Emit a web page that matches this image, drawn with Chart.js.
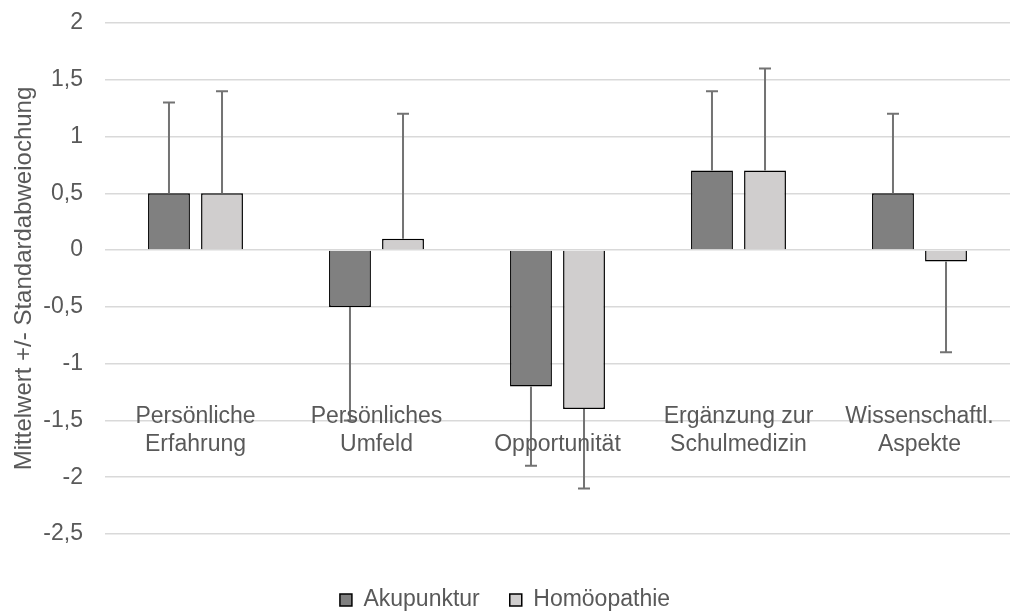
<!DOCTYPE html>
<html>
<head>
<meta charset="utf-8">
<script src="https://cdn.jsdelivr.net/npm/chart.js@4"></script>
<style>
  html, body { margin: 0; padding: 0; background: #fff; }
</style>
</head>
<body>
<canvas id="chart" width="1029" height="612"></canvas>
<script>
const categories = [
  ["Persönliche", "Erfahrung"],
  ["Persönliches", "Umfeld"],
  ["Opportunität"],
  ["Ergänzung zur", "Schulmedizin"],
  ["Wissenschaftl.", "Aspekte"],
];
const akupunktur = [0.5, -0.5, -1.2, 0.7, 0.5];
const akupunkturSd = [0.8, 1.0, 0.7, 0.7, 0.7];
const homoeopathie = [0.5, 0.1, -1.4, 0.7, -0.1];
const homoeopathieSd = [0.9, 1.1, 0.7, 0.9, 0.8];
const yTicks = [2, 1.5, 1, 0.5, 0, -0.5, -1, -1.5, -2, -2.5];

const textColor = "#595959";
const font = "'Liberation Sans', Arial, sans-serif";
const fontSize = 23;

// error bars away from zero, cap only on the far end
const errorBars = {
  id: "errorBars",
  afterDatasetsDraw(chart) {
    const ctx = chart.ctx;
    const y = chart.scales.y;
    const sds = [akupunkturSd, homoeopathieSd];
    ctx.save();
    ctx.strokeStyle = "#737373";
    ctx.lineWidth = 2;
    chart.data.datasets.forEach((ds, i) => {
      const meta = chart.getDatasetMeta(i);
      meta.data.forEach((bar, j) => {
        const v = ds.data[j];
        const end = v >= 0 ? v + sds[i][j] : v - sds[i][j];
        const y0 = y.getPixelForValue(v);
        const y1 = y.getPixelForValue(end);
        ctx.beginPath();
        ctx.moveTo(bar.x, y0);
        ctx.lineTo(bar.x, y1);
        ctx.moveTo(bar.x - 6, y1);
        ctx.lineTo(bar.x + 6, y1);
        ctx.stroke();
      });
    });
    ctx.restore();
  },
};

// category labels sit inside the plot, like the original
const categoryLabels = {
  id: "categoryLabels",
  afterDraw(chart) {
    const ctx = chart.ctx;
    const x = chart.scales.x;
    const yTop = chart.scales.y.getPixelForValue(-1.5) - 4;
    ctx.save();
    ctx.fillStyle = textColor;
    ctx.font = fontSize + "px " + font;
    ctx.textAlign = "center";
    ctx.textBaseline = "middle";
    categories.forEach((lines, i) => {
      const cx = x.getPixelForTick(i);
      const startY = lines.length === 1 ? yTop + 28 : yTop;
      lines.forEach((line, k) => ctx.fillText(line, cx, startY + k * 28));
    });
    ctx.restore();
  },
};

const config = {
  type: "bar",
  data: {
    labels: categories.map((c) => c.join(" ")),
    datasets: [
      {
        label: "Akupunktur",
        data: akupunktur,
        backgroundColor: "#808080",
        borderColor: "#000000",
        borderWidth: 1.5,
        categoryPercentage: 0.586,
        barPercentage: 0.79,
      },
      {
        label: "Homöopathie",
        data: homoeopathie,
        backgroundColor: "#d0cece",
        borderColor: "#000000",
        borderWidth: 1.5,
        categoryPercentage: 0.586,
        barPercentage: 0.79,
      },
    ],
  },
  options: {
    responsive: false,
    animation: false,
    layout: { padding: { top: 23, right: 19, left: 0, bottom: -9.5 } },
    scales: {
      x: {
        grid: { display: false },
        border: { display: false },
        ticks: { display: false },
        afterFit: (s) => { s.height = 24.5; },
      },
      y: {
        min: -2.5,
        max: 2,
        afterBuildTicks: (s) => { s.ticks = yTicks.map((v) => ({ value: v })); },
        afterFit: (s) => {
          s.width = 105;
          s.paddingTop = 0;
          s.paddingBottom = 0;
        },
        grid: { color: "#d9d9d9", lineWidth: 1.5, drawTicks: false },
        border: { display: false },
        ticks: {
          color: textColor,
          padding: 22,
          font: { family: font, size: fontSize },
          callback: (v) => String(v).replace(".", ","),
        },
        title: {
          display: true,
          text: "Mittelwert +/- Standardabweiochung",
          color: textColor,
          font: { family: font, size: 24 },
          padding: { top: 10, bottom: 0 },
        },
      },
    },
    plugins: {
      tooltip: { enabled: false },
      legend: {
        position: "bottom",
        labels: {
          color: textColor,
          font: { family: font, size: fontSize },
          boxWidth: 12,
          boxHeight: 12,
          padding: 30,
        },
      },
    },
  },
  plugins: [errorBars, categoryLabels],
};

new Chart(document.getElementById("chart"), config);
</script>
</body>
</html>
